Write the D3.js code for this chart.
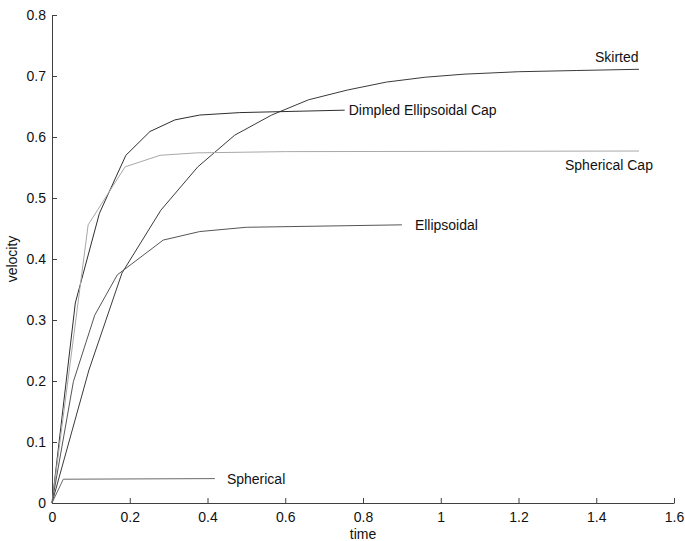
<!DOCTYPE html>
<html>
<head>
<meta charset="utf-8">
<script src="https://cdn.jsdelivr.net/npm/d3@7"></script>
<style>
  body { margin: 0; background: #fff; }
  text { font-family: "Liberation Sans", Arial, sans-serif; }
</style>
</head>
<body>
<div id="chart"></div>
<script>
// velocity vs time
var skirted_t = [0, 0.095, 0.18, 0.28, 0.375, 0.47, 0.565, 0.66, 0.76, 0.86, 0.96, 1.06, 1.2, 1.35, 1.51];
var skirted_v = [0, 0.218, 0.377, 0.48, 0.551, 0.603, 0.636, 0.661, 0.677, 0.69, 0.698, 0.703, 0.707, 0.709, 0.711];

var dimpled_t = [0, 0.06, 0.122, 0.19, 0.252, 0.316, 0.38, 0.483, 0.753];
var dimpled_v = [0, 0.328, 0.475, 0.57, 0.609, 0.628, 0.636, 0.640, 0.644];

var sphcap_t = [0, 0.093, 0.188, 0.278, 0.372, 0.6, 1.51];
var sphcap_v = [0, 0.456, 0.551, 0.570, 0.574, 0.576, 0.577];

var ellip_t = [0, 0.055, 0.11, 0.168, 0.286, 0.38, 0.5, 0.9];
var ellip_v = [0, 0.199, 0.308, 0.374, 0.431, 0.445, 0.452, 0.456];

var sph_t = [0, 0.029, 0.419];
var sph_v = [0, 0.039, 0.04];

var x_ticks = [0, 0.2, 0.4, 0.6, 0.8, 1, 1.2, 1.4, 1.6];
var y_ticks = [0, 0.1, 0.2, 0.3, 0.4, 0.5, 0.6, 0.7, 0.8];

var series = [
  { name: 'Skirted', t: skirted_t, v: skirted_v, color: '#3a3a3a', dx: -44, dy: -12 },
  { name: 'Dimpled Ellipsoidal Cap', t: dimpled_t, v: dimpled_v, color: '#2e2e2e', dx: 4, dy: 0 },
  { name: 'Spherical Cap', t: sphcap_t, v: sphcap_v, color: '#a8a8a8', dx: -74, dy: 14 },
  { name: 'Ellipsoidal', t: ellip_t, v: ellip_v, color: '#555555', dx: 13, dy: 0 },
  { name: 'Spherical', t: sph_t, v: sph_v, color: '#6a6a6a', dx: 12, dy: 0 }
];

var W = 685, H = 541;
var margin = { left: 52, right: 11, top: 15, bottom: 38 };
var font_size = '14px';

var svg = d3.select('#chart').append('svg')
  .attr('width', W)
  .attr('height', H);

var x = d3.scaleLinear().domain([0, 1.6]).range([margin.left, W - margin.right]);
var y = d3.scaleLinear().domain([0, 0.8]).range([H - margin.bottom, margin.top]);

var axis_color = '#404040';

// x axis, ticks pointing in
var gx = svg.append('g')
  .attr('transform', 'translate(0,' + y(0) + ')')
  .call(d3.axisBottom(x).tickValues(x_ticks).tickSize(-5).tickSizeOuter(0).tickPadding(8)
    .tickFormat(function (d) { return d3.format('')(d); }));

// y axis
var gy = svg.append('g')
  .attr('transform', 'translate(' + x(0) + ',0)')
  .call(d3.axisLeft(y).tickValues(y_ticks).tickSize(-5).tickSizeOuter(0).tickPadding(6)
    .tickFormat(function (d) { return d3.format('')(d); }));

[gx, gy].forEach(function (g) {
  g.select('.domain').attr('stroke', axis_color);
  g.selectAll('.tick line').attr('stroke', axis_color);
  g.selectAll('.tick text')
    .attr('fill', '#111')
    .style('font-size', font_size)
    .style('font-family', '"Liberation Sans", Arial, sans-serif');
});
gx.selectAll('.tick text').attr('dy', '0.8em');

// axis titles
svg.append('text')
  .attr('x', x(0.8))
  .attr('y', 539)
  .attr('text-anchor', 'middle')
  .style('font-size', font_size)
  .attr('fill', '#111')
  .text('time');

svg.append('text')
  .attr('transform', 'translate(17,' + y(0.4) + ') rotate(-90)')
  .attr('text-anchor', 'middle')
  .style('font-size', font_size)
  .attr('fill', '#111')
  .text('velocity');

var line = d3.line()
  .x(function (d) { return x(d[0]); })
  .y(function (d) { return y(d[1]); });

series.forEach(function (s) {
  var pts = d3.zip(s.t, s.v);
  svg.append('path')
    .datum(pts)
    .attr('d', line)
    .attr('fill', 'none')
    .attr('stroke', s.color)
    .attr('stroke-width', 1);

  var last = pts[pts.length - 1];
  svg.append('text')
    .attr('x', x(last[0]) + s.dx)
    .attr('y', y(last[1]) + s.dy)
    .attr('dy', '0.35em')
    .style('font-size', font_size)
    .attr('fill', '#111')
    .text(s.name);
});
</script>
</body>
</html>
